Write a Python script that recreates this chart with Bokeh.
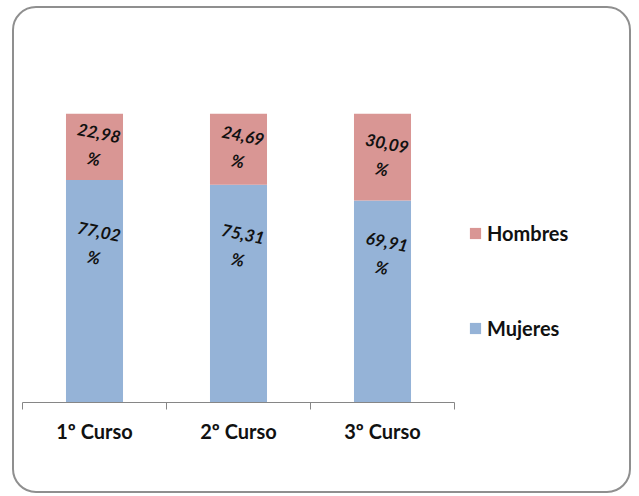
from bokeh.plotting import figure
from bokeh.models import ColumnDataSource, FixedTicker, Range1d, Legend, LegendItem
from bokeh.core.properties import value
from bokeh.embed import file_html
from bokeh.resources import INLINE

categories = ["1º Curso", "2º Curso", "3º Curso"]
mujeres = [77.02, 75.31, 69.91]
hombres = [22.98, 24.69, 30.09]
series_names = ["Mujeres", "Hombres"]
colors = ["#95B3D7", "#D99694"]


def fmt(v):
    return ("%.2f" % v).replace(".", ",") + "\n%"


n = len(categories)
x = [i + 0.5 for i in range(n)]
src = ColumnDataSource(dict(
    x=x,
    mujeres=mujeres,
    hombres=hombres,
    m_mid=[m / 2 for m in mujeres],
    h_mid=[m + h / 2 for m, h in zip(mujeres, hombres)],
    m_lab=[fmt(v) for v in mujeres],
    h_lab=[fmt(v) for v in hombres],
))

FW = 601
CW = 432  # pixel width of the three categories
p = figure(x_range=Range1d(0, n * FW / CW), y_range=Range1d(0, 100),
           frame_width=FW, frame_height=289,
           min_border_left=8, min_border_right=6, min_border_top=105, min_border_bottom=89,
           output_backend="svg", toolbar_location=None)
p.styles = {"border": "2px solid #8f8f8f", "border-radius": "24px",
            "margin-left": "12px", "margin-top": "6px"}
p.border_fill_color = None
p.background_fill_color = None
p.outline_line_color = None

rs = p.vbar_stack(["mujeres", "hombres"], x="x", width=0.396, color=colors,
                  line_color=None, source=src)

common = dict(text_align="center", text_baseline="middle", text_font=value("Lato"),
              text_font_style="bold italic", text_font_size="17px",
              text_line_height=1.25, angle=-0.2, text_color="#111111", source=src)
p.text(x="x", y="h_mid", text="h_lab", x_offset=2, y_offset=-1, **common)
p.text(x="x", y="m_mid", text="m_lab", x_offset=2, y_offset=-47, **common)

p.yaxis.visible = False
p.xgrid.visible = False
p.ygrid.visible = False
ax = p.xaxis[0]
ax.bounds = (0, n)
ax.ticker = FixedTicker(ticks=x, minor_ticks=list(range(n + 1)))
ax.major_label_overrides = {xi: c for xi, c in zip(x, categories)}
ax.axis_line_color = "#868686"
ax.major_tick_in = 0
ax.major_tick_out = 0
ax.minor_tick_in = 0
ax.minor_tick_out = 7
ax.minor_tick_line_color = "#868686"
ax.major_label_text_font = "Lato"
ax.major_label_text_font_style = "bold"
ax.major_label_text_font_size = "20px"
ax.major_label_text_color = "#111111"
ax.major_label_standoff = 9

legend = Legend(items=[LegendItem(label=series_names[1], renderers=[rs[1]]),
                       LegendItem(label=series_names[0], renderers=[rs[0]])],
                location=(446, 62), orientation="vertical",
                glyph_width=14, glyph_height=14, label_standoff=5, spacing=71,
                padding=0, margin=0, border_line_color=None, background_fill_alpha=0,
                label_text_font="Lato", label_text_font_style="bold",
                label_text_font_size="20px", label_text_color="#111111", label_height=14)
p.add_layout(legend, "center")

open("out.html", "w").write(file_html(p, INLINE))
